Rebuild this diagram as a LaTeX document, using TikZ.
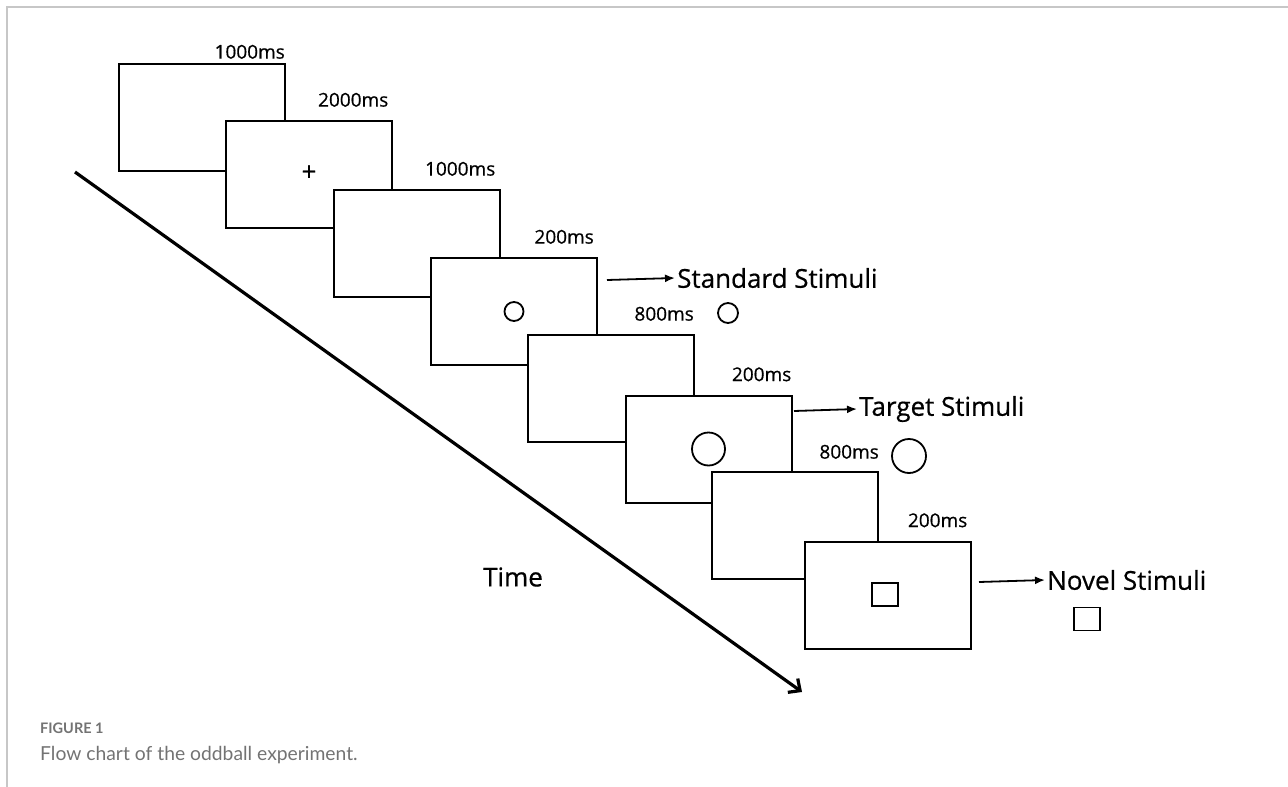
\documentclass[tikz,border=0pt]{standalone}
\usepackage{fontspec}
\setmainfont{Open Sans}[FakeBold=0.6]
\newfontfamily\captionfont{Lato}
\usetikzlibrary{arrows.meta,positioning}
\tikzset{
    screen-box/.style = {draw, fill=white, line width=2pt, rectangle, minimum width=166pt, minimum height=107pt, inner sep=0pt},
    duration/.style = {font=\fontsize{19}{19}\selectfont, inner sep=0pt},
    stim-label/.style = {font=\fontsize{26}{26}\selectfont, inner sep=2pt, anchor=west},
    stim-circle/.style = {draw, circle, line width=1.8pt, inner sep=0pt},
    stim-square/.style = {draw, rectangle, line width=1.8pt, inner sep=0pt, minimum width=26pt, minimum height=23pt},
    stim-arrow/.style = {line width=1.8pt, -{Latex[length=10pt,width=8pt]}},
    time-arrow/.style = {line width=3.2pt, -{Straight Barb[length=9pt,width=17pt]}},
}

\begin{document}
\begin{tikzpicture}[x=1pt, y=-1pt]
\useasboundingbox (0,0) rectangle (1288,787);
\draw[black!22, line width=1.5pt] (7,787) -- (7,7) -- (1288,7);

\node [screen-box] (b1) at (202,117.5) {};
\node [screen-box] (b2) at (308.5,174.5) {};
\node [screen-box] (b3) at (416.5,243.5) {};
\node [screen-box] (b4) at (514,311.5) {};
\node [screen-box] (b5) at (611,388.5) {};
\node [screen-box] (b6) at (708.5,449) {};
\node [screen-box] (b7) at (795,525.5) {};
\node [screen-box] (b8) at (887.5,595) {};

\node [duration, above left=4pt and 1pt] (d1) at (b1.north east) {1000ms};
\node [duration, above left=13pt and 4pt] (d2) at (b2.north east) {2000ms};
\node [duration, above left=13pt and 5pt] (d3) at (b3.north east) {1000ms};
\node [duration, above left=13pt and 4pt] (d4) at (b4.north east) {200ms};
\node [duration, above left=13pt and 1pt] (d5) at (b5.north east) {800ms};
\node [duration, above left=13pt and 1pt] (d6) at (b6.north east) {200ms};
\node [duration, above left=12pt and 0pt] (d7) at (b7.north east) {800ms};
\node [duration, above left=13pt and 4pt] (d8) at (b8.north east) {200ms};

\node [font=\fontsize{26}{26}\selectfont, inner sep=0pt] (fix) at (309,173) {+};
\node [stim-circle, minimum size=19pt] (c4) at (b4.center) {};
\node [stim-circle, minimum size=33pt] (c6) at (b6.center) {};
\node [stim-square] (s8) at (885,594.5) {};

\coordinate (std-in) at (607,280);
\node [stim-label] (std) at (675,278) {Standard Stimuli};
\draw [stim-arrow] (std-in) -- (std.west);
\node [stim-circle, minimum size=20pt] (std-c) at (728,313) {};

\coordinate (tgt-in) at (794,411);
\node [stim-label] (tgt) at (857,409) {Target Stimuli};
\draw [stim-arrow] (tgt-in) -- (tgt.west);
\node [stim-circle, minimum size=34pt] (tgt-c) at (909,456) {};

\coordinate (nov-in) at (979,582);
\node [stim-label] (nov) at (1045,580) {Novel Stimuli};
\draw [stim-arrow] (nov-in) -- (nov.west);
\node [stim-square] (nov-s) at (1087,619) {};

\coordinate (t-start) at (75,172);
\coordinate (t-end) at (802,692);
\draw [time-arrow] (t-start) -- (t-end);
\node [font=\fontsize{26}{26}\selectfont, inner sep=0pt] (time) at (513,577) {Time};

\node [font=\captionfont\bfseries\fontsize{14.5}{14.5}\selectfont, text=black!55, anchor=base west, inner sep=0pt] (fig) at (40,733) {FIGURE 1};
\node [font=\captionfont\fontsize{19.3}{19.3}\selectfont, text=black!55, anchor=base west, inner sep=0pt] (cap) at (40,760) {Flow chart of the oddball experiment.};
\end{tikzpicture}
\end{document}
